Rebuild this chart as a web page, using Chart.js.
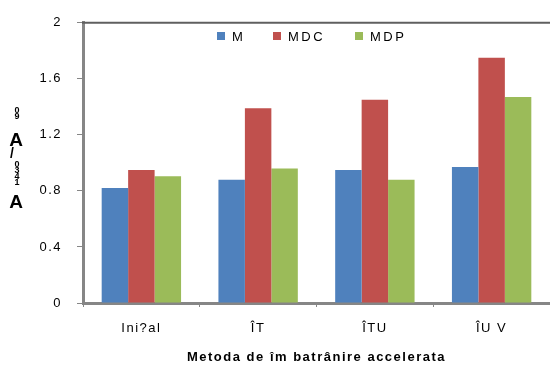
<!DOCTYPE html>
<html>
<head>
<meta charset="utf-8">
<script src="https://cdn.jsdelivr.net/npm/chart.js@4"></script>
<style>
  html, body { margin: 0; padding: 0; background: #fff; }
  #wrap { width: 550px; height: 367px; }
</style>
</head>
<body>
<div id="wrap"><canvas id="c" width="550" height="367"></canvas></div>
<script>
// Aging method categories and measured ratios per sample type
const categories = ['Ini?al', 'ÎT', 'ÎTU', 'ÎU V'];
const seriesNames = ['M', 'M D C', 'M D P'];
const valuesM   = [0.82, 0.88, 0.95, 0.97];
const valuesMDC = [0.95, 1.39, 1.45, 1.75];
const valuesMDP = [0.905, 0.96, 0.88, 1.47];
const yTicks = [0, 0.4, 0.8, 1.2, 1.6, 2];
const colors = ['#4F81BD', '#C0504D', '#9BBB59'];
const xTitle = 'Metoda de îm batrânire accelerata';

const FONT = '"Liberation Sans", Arial, sans-serif';

// Letter-spaced text everywhere
const spacing = {
  id: 'spacing',
  beforeDraw(chart) { chart.ctx.letterSpacing = '1.5px'; }
};

// Frame line along the top of the plot area, legend inside the plot, y title
const decor = {
  id: 'decor',
  afterDraw(chart) {
    const ctx = chart.ctx;
    const a = chart.chartArea;
    ctx.save();
    ctx.strokeStyle = '#5f5f5f';
    ctx.lineWidth = 2;
    ctx.beginPath();
    ctx.moveTo(a.left - 1, a.top);
    ctx.lineTo(a.right, a.top);
    ctx.stroke();

    // legend
    ctx.letterSpacing = '2.5px';
    ctx.font = '13px ' + FONT;
    ctx.textBaseline = 'middle';
    const items = [
      { x: 217, label: 'M' },
      { x: 273, label: 'MDC' },
      { x: 355, label: 'MDP' }
    ];
    items.forEach((it, i) => {
      ctx.fillStyle = colors[i];
      ctx.fillRect(it.x, 32, 8, 8);
      ctx.fillStyle = '#000';
      ctx.fillText(it.label, it.x + 15, 37);
    });

    // y-axis title: stacked characters
    ctx.letterSpacing = '0px';
    ctx.textAlign = 'center';
    const glyphs = [
      ['0', 9, 17, 111], ['9', 9, 17, 117],
      ['A', 19, 16, 141],
      ['/', 14, 12, 154],
      ['0', 9, 17, 165], ['3', 9, 17, 171], ['4', 9, 17, 177], ['1', 9, 17, 183],
      ['A', 19, 16, 203]
    ];
    glyphs.forEach(([ch, size, x, y]) => {
      ctx.font = 'bold ' + size + 'px ' + FONT;
      ctx.fillText(ch, x, y);
    });
    ctx.restore();
  }
};

new Chart(document.getElementById('c'), {
  type: 'bar',
  data: {
    labels: categories,
    datasets: [
      { label: seriesNames[0], data: valuesM,   backgroundColor: colors[0] },
      { label: seriesNames[1], data: valuesMDC, backgroundColor: colors[1] },
      { label: seriesNames[2], data: valuesMDP, backgroundColor: colors[2] }
    ]
  },
  options: {
    responsive: false,
    animation: false,
    devicePixelRatio: 1,
    layout: { padding: { top: 20, right: -1, left: 0, bottom: 0 } },
    datasets: { bar: { categoryPercentage: 0.68, barPercentage: 1.0 } },
    plugins: {
      legend: { display: false },
      tooltip: { enabled: false }
    },
    scales: {
      x: {
        afterFit(s) { s.height = 64; },
        grid: {
          display: true, drawOnChartArea: false, offset: true,
          tickLength: 4, color: '#868686', lineWidth: 1
        },
        border: { display: true, color: '#868686', width: 3 },
        ticks: { color: '#000', font: { family: FONT, size: 13 }, padding: 14 },
        title: {
          display: true, text: xTitle, color: '#000',
          font: { family: FONT, size: 13, weight: 'bold' },
          padding: { top: 0, bottom: 2 }
        }
      },
      y: {
        min: 0, max: 2,
        afterFit(s) { s.width = 83; },
        afterBuildTicks(s) { s.ticks = yTicks.map(v => ({ value: v })); },
        grid: {
          display: true, drawOnChartArea: false,
          tickLength: 6, color: '#868686', lineWidth: 1
        },
        border: { display: true, color: '#868686', width: 3 },
        ticks: {
          color: '#000', font: { family: FONT, size: 13 }, padding: 15,
          callback: v => String(v)
        }
      }
    }
  },
  plugins: [spacing, decor]
});
</script>
</body>
</html>
